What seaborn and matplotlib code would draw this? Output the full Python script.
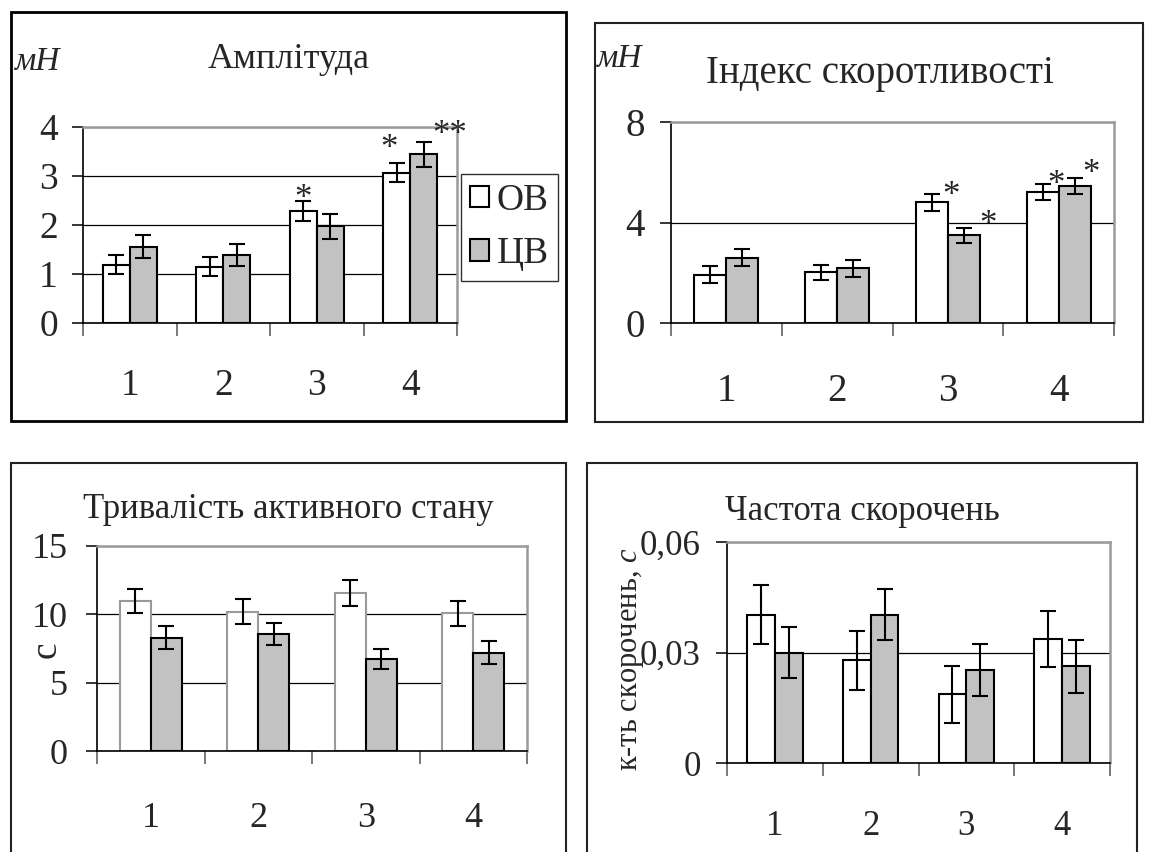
import numpy as np
import pandas as pd
import seaborn as sns
import matplotlib.pyplot as plt
from matplotlib.patches import Rectangle, Patch

# ---- data ----
groups = ["1", "2", "3", "4"]
series = ["ОВ", "ЦВ"]

amp_ob = [1.19, 1.15, 2.29, 3.07]
amp_cv = [1.56, 1.39, 1.97, 3.44]
amp_ob_err = [0.20, 0.20, 0.20, 0.20]
amp_cv_err = [0.23, 0.22, 0.25, 0.25]

idx_ob = [1.92, 2.01, 4.81, 5.22]
idx_cv = [2.60, 2.17, 3.49, 5.46]
idx_ob_err = [0.33, 0.31, 0.34, 0.33]
idx_cv_err = [0.34, 0.35, 0.30, 0.33]

dur_ob = [10.98, 10.20, 11.56, 10.07]
dur_cv = [8.27, 8.56, 6.73, 7.20]
dur_ob_err = [0.89, 0.91, 0.93, 0.90]
dur_cv_err = [0.84, 0.84, 0.76, 0.85]

freq_ob = [0.0403, 0.0279, 0.0186, 0.0337]
freq_cv = [0.0300, 0.0403, 0.0252, 0.0262]
freq_ob_err = [0.0080, 0.0080, 0.0077, 0.0077]
freq_cv_err = [0.0069, 0.0070, 0.0070, 0.0073]

amp_yticks = [0, 1, 2, 3, 4]
idx_yticks = [0, 4, 8]
dur_yticks = [0, 5, 10, 15]
freq_yticks = [0, 0.03, 0.06]
freq_yticklabels = ["0", "0,03", "0,06"]

# stars: (group index, series index, text)
amp_stars = [(2, 0, "*"), (3, 0, "*"), (3, 1, "**")]
idx_stars = [(2, 0, "*"), (2, 1, "*"), (3, 0, "*"), (3, 1, "*")]

# ---- style ----
sns.set_style("white")
plt.rcParams["font.family"] = ["Liberation Serif", "DejaVu Serif"]
plt.rcParams["mathtext.fontset"] = "custom"
plt.rcParams["mathtext.rm"] = "Liberation Serif"
plt.rcParams["mathtext.it"] = "Liberation Serif:italic"

W, H = 1149, 852
fig = plt.figure(figsize=(W / 100, H / 100), dpi=100)

GRAY = "#c2c2c2"
PX = 0.72  # points per pixel at dpi 100


def fx(px):
    return px / W


def fy(py):
    return 1 - py / H


def make_axes(x0, y0, x1, y1):
    return fig.add_axes([fx(x0), fy(y1), fx(x1) - fx(x0), fy(y0) - fy(y1)])


def draw_panel(ax, ob, cv, ob_err, cv_err, yticks, ymax, xpad, ypad, fs,
               ob_edge="black"):
    df = pd.DataFrame({
        "group": groups * 2,
        "series": [series[0]] * 4 + [series[1]] * 4,
        "value": ob + cv,
    })
    sns.barplot(data=df, x="group", y="value", hue="series", order=groups,
                hue_order=series, palette=["white", GRAY], width=0.58, gap=0,
                edgecolor="black", linewidth=1.5, errorbar=None, legend=False,
                saturation=1, ax=ax, zorder=2)
    tops = []
    for cont, err in zip(ax.containers, [ob_err, cv_err]):
        xs = [b.get_x() + b.get_width() / 2 for b in cont]
        ys = [b.get_height() for b in cont]
        ax.errorbar(xs, ys, yerr=err, fmt="none", ecolor="black",
                    elinewidth=1.5, capsize=6, capthick=1.5, zorder=3)
        tops.append([(x, y + e) for x, y, e in zip(xs, ys, err)])
    if ob_edge != "black":
        for b in ax.containers[0]:
            b.set_edgecolor(ob_edge)

    ax.set_xlim(-0.5, 3.5)
    ax.set_ylim(0, ymax)
    ax.set_yticks(yticks)
    ax.set_xlabel("")
    ax.set_ylabel("")
    ax.yaxis.grid(True, color="black", lw=0.9)
    ax.xaxis.grid(False)
    ax.set_axisbelow(True)

    for s in ["left", "bottom"]:
        ax.spines[s].set_color("black")
        ax.spines[s].set_linewidth(1.2)
    for s in ["top", "right"]:
        ax.spines[s].set_color("#9a9a9a")
        ax.spines[s].set_linewidth(1.8)

    ax.tick_params(axis="y", which="major", direction="out", length=8,
                   width=1.1, color="black", labelsize=fs, pad=ypad, left=True)
    ax.set_xticks(range(4))
    ax.set_xticks([-0.5, 0.5, 1.5, 2.5, 3.5], minor=True)
    ax.tick_params(axis="x", which="major", length=0, labelsize=fs, pad=xpad)
    ax.tick_params(axis="x", which="minor", direction="out", length=9,
                   width=1.1, color="#555555", bottom=True)
    return tops


def put_stars(ax, tops, stars, offsets, fs=25):
    for (g, s, txt), (dx, dy) in zip(stars, offsets):
        x, y = tops[s][g]
        ax.annotate(txt, xy=(x, y), xytext=(dx * PX, dy * PX - 0.5 * fs),
                    textcoords="offset points", ha="center", va="baseline",
                    fontsize=fs, annotation_clip=False, zorder=4)


# ---- panel 1: amplitude ----
ax1 = make_axes(83, 127, 457, 323)
t1 = draw_panel(ax1, amp_ob, amp_cv, amp_ob_err, amp_cv_err, amp_yticks, 4,
                xpad=33, ypad=10, fs=27)
put_stars(ax1, t1, amp_stars, [(0, 10), (-8, 22), (26, 16)])
fig.text(fx(289), fy(60), "Амплітуда", ha="center", va="center", fontsize=26)
fig.text(fx(15), fy(62), "мН", ha="left", va="center", fontsize=24, style="italic")
handles = [Patch(facecolor="white", edgecolor="black", lw=1.5),
           Patch(facecolor=GRAY, edgecolor="black", lw=1.5)]
leg = fig.legend(handles, series, loc="upper left",
                 bbox_to_anchor=(fx(461), fy(174)), borderaxespad=0,
                 fontsize=27, frameon=True, fancybox=False, handlelength=0.5,
                 handleheight=0.5, handletextpad=0.2, borderpad=0.25,
                 labelspacing=0.5)
leg.get_frame().set_edgecolor("black")
leg.get_frame().set_linewidth(1.0)

# ---- panel 2: contractility index ----
ax2 = make_axes(671, 122, 1114, 323)
t2 = draw_panel(ax2, idx_ob, idx_cv, idx_ob_err, idx_cv_err, idx_yticks, 8,
                xpad=36, ypad=11, fs=28)
put_stars(ax2, t2, idx_stars, [(19, 6), (24, 11), (13, 7), (16, 12)])
fig.text(fx(880), fy(73), "Індекс скоротливості", ha="center", va="center",
         fontsize=28)
fig.text(fx(597), fy(59), "мН", ha="left", va="center", fontsize=24,
         style="italic")

# ---- panel 3: duration of active state ----
ax3 = make_axes(97, 546, 527, 751)
draw_panel(ax3, dur_ob, dur_cv, dur_ob_err, dur_cv_err, dur_yticks, 15,
           xpad=37, ypad=13, fs=26, ob_edge="#9a9a9a")
fig.text(fx(288), fy(510), "Тривалість активного стану", ha="center",
         va="center", fontsize=25)
fig.text(fx(46), fy(650), "с", ha="center", va="center", fontsize=27,
         rotation=90)

# ---- panel 4: contraction frequency ----
ax4 = make_axes(727, 542, 1110, 763)
draw_panel(ax4, freq_ob, freq_cv, freq_ob_err, freq_cv_err, freq_yticks, 0.06,
           xpad=34, ypad=11, fs=25)
ax4.set_yticklabels(freq_yticklabels)
fig.text(fx(862), fy(511), "Частота скорочень", ha="center", va="center",
         fontsize=25)
fig.text(fx(631), fy(659), "к-ть скорочень, $\\mathit{с}$", ha="center",
         va="center", fontsize=22, rotation=90)

# ---- outer frames ----
frames = [((11, 12, 566, 421), "black", 2.0),
          ((595, 23, 1143, 422), "#222222", 1.5),
          ((11, 463, 566, 870), "#222222", 1.5),
          ((587, 463, 1137, 870), "#222222", 1.5)]
for (x0, y0, x1, y1), c, lw in frames:
    fig.patches.append(Rectangle((fx(x0), fy(y1)), fx(x1) - fx(x0),
                                 fy(y0) - fy(y1), transform=fig.transFigure,
                                 fill=False, edgecolor=c, lw=lw, zorder=10))

fig.savefig("out.png", dpi=100)
